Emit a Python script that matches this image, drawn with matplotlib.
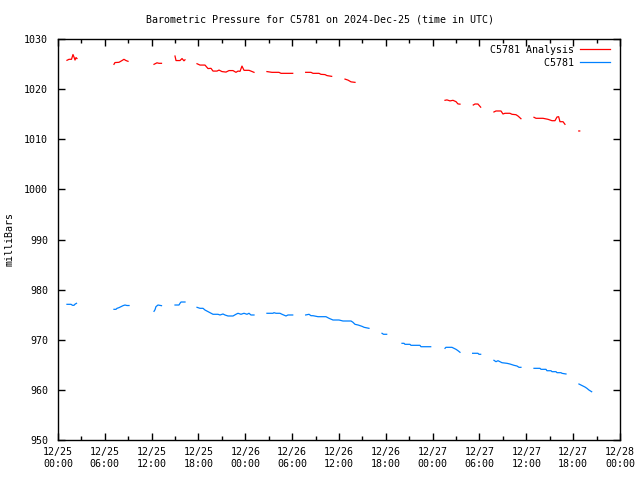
import numpy as np
import pandas as pd
import matplotlib
matplotlib.use("Agg")
import matplotlib.pyplot as plt
import matplotlib.dates as mdates

nan = np.nan

# hours since 2024-12-25 00:00 UTC, nan marks a gap in the record
analysis_hours = [1.15, 1.41, 1.73, 1.92, 2.05, 2.18, 2.31, 2.43, 4.0,
                  7.17, 7.30, 7.81, 8.20, 8.45, 8.71, 8.97, 10.0,
                  12.30, 12.68, 12.94, 13.26, 14.0,
                  14.99, 15.12, 15.63, 15.89, 16.14, 16.27, 17.0,
                  17.81, 18.19, 18.83, 19.08, 19.22, 19.60, 19.86, 20.37, 20.63, 21.01,
                  21.52, 21.91, 22.42, 22.80, 23.06, 23.32, 23.57, 23.83, 24.47, 24.72, 25.11, 26.0,
                  26.77, 27.41, 28.31, 28.57, 30.07, 31.0,
                  31.73, 32.41, 32.67, 33.44, 33.69, 34.20, 34.46, 35.06, 36.0,
                  36.77, 37.15, 37.54, 38.05, 45.0,
                  49.58, 49.83, 50.22, 50.60, 50.99, 51.24, 51.50, 52.0,
                  53.20, 53.42, 53.80, 54.15, 55.0,
                  55.85, 56.11, 56.75, 57.01, 57.26, 57.90, 58.16, 58.67, 58.93, 59.31, 60.0,
                  60.98, 61.24, 62.13, 62.77, 63.29, 63.67, 63.93, 64.14, 64.31, 64.70, 64.95, 66.0,
                  66.72, 66.84]
analysis_mb = [1025.75, 1025.95, 1025.95, 1026.9, 1026.4, 1025.8, 1026.3, 1026.1, nan,
               1024.95, 1025.3, 1025.35, 1025.7, 1025.95, 1025.7, 1025.55, nan,
               1024.95, 1025.25, 1025.15, 1025.15, nan,
               1026.6, 1025.7, 1025.7, 1026.1, 1025.65, 1025.85, nan,
               1025.07, 1024.8, 1024.8, 1024.35, 1024.1, 1024.15, 1023.6, 1023.6, 1023.8, 1023.5,
               1023.4, 1023.7, 1023.7, 1023.35, 1023.6, 1023.55, 1024.6, 1023.75, 1023.75, 1023.6, 1023.35, nan,
               1023.5, 1023.35, 1023.35, 1023.15, 1023.15, nan,
               1023.35, 1023.35, 1023.15, 1023.15, 1022.95, 1022.9, 1022.7, 1022.55, nan,
               1022.0, 1021.8, 1021.45, 1021.35, nan,
               1017.77, 1017.85, 1017.65, 1017.77, 1017.5, 1017.05, 1017.0, nan,
               1016.83, 1017.03, 1017.03, 1016.4, nan,
               1015.44, 1015.64, 1015.64, 1015.04, 1015.18, 1015.18, 1014.98, 1014.9, 1014.64, 1014.1, nan,
               1014.38, 1014.18, 1014.18, 1013.98, 1013.7, 1013.7, 1014.44, 1014.5, 1013.5, 1013.5, 1012.98, nan,
               1011.65, 1011.65]

station_hours = [1.15, 1.67, 1.86, 2.05, 2.18, 2.37, 4.0,
                 7.17, 7.43, 7.56, 7.81, 8.07, 8.33, 8.58, 8.84, 9.10, 10.0,
                 12.30, 12.43, 12.55, 12.81, 13.26, 14.0,
                 14.99, 15.50, 15.63, 15.76, 16.27, 17.0,
                 17.81, 18.19, 18.58, 18.83, 19.22, 19.60, 19.86, 20.50, 20.75, 21.14, 21.39,
                 21.78, 22.42, 22.80, 23.06, 23.44, 23.83, 24.21, 24.47, 24.72, 25.11, 26.0,
                 26.77, 27.54, 27.67, 27.93, 28.44, 28.70, 29.21, 29.46, 30.07, 31.0,
                 31.73, 32.16, 32.41, 32.67, 33.31, 34.33, 34.72, 35.23, 36.00, 36.51, 37.54,
                 37.79, 38.05, 38.45, 38.96, 39.22, 39.84, 40.5,
                 41.51, 41.70, 42.11, 43.0,
                 44.07, 44.33, 44.45, 45.09, 45.22, 46.37, 46.50, 47.75, 48.5,
                 49.58, 49.70, 50.47, 50.73, 50.99, 51.24, 51.50, 52.0,
                 53.12, 53.80, 53.93, 54.15, 55.0,
                 55.85, 56.11, 56.37, 56.62, 56.88, 57.52, 57.90, 58.42, 58.80, 59.06, 59.31, 60.0,
                 60.98, 61.75, 61.88, 62.52, 62.64, 63.16, 63.29, 63.80, 63.93, 64.44, 64.57, 65.08, 66.0,
                 66.74, 67.00, 67.26, 67.51, 67.77, 68.02, 68.37]
station_mb = [977.07, 977.07, 976.87, 976.87, 977.1, 977.27, nan,
              976.07, 976.07, 976.27, 976.4, 976.6, 976.8, 976.93, 976.83, 976.83, nan,
              975.67, 976.0, 976.6, 976.93, 976.8, nan,
              976.93, 976.93, 977.27, 977.53, 977.53, nan,
              976.47, 976.27, 976.27, 975.93, 975.6, 975.28, 975.08, 975.08, 974.94, 975.14, 974.94,
              974.74, 974.74, 975.08, 975.28, 975.08, 975.28, 975.08, 975.28, 974.94, 974.94, nan,
              975.28, 975.28, 975.4, 975.28, 975.28, 975.08, 974.74, 974.94, 974.94, nan,
              974.94, 975.08, 974.8, 974.8, 974.6, 974.6, 974.28, 973.94, 973.94, 973.74, 973.74,
              973.48, 973.08, 972.94, 972.67, 972.48, 972.28, nan,
              971.29, 971.09, 971.09, nan,
              969.29, 969.29, 969.09, 969.09, 968.89, 968.89, 968.61, 968.61, nan,
              968.29, 968.49, 968.49, 968.29, 968.09, 967.82, 967.5, nan,
              967.3, 967.3, 967.1, 967.1, nan,
              965.9, 965.62, 965.82, 965.62, 965.42, 965.3, 965.16, 964.9, 964.76, 964.5, 964.5, nan,
              964.3, 964.3, 964.1, 964.1, 963.82, 963.82, 963.63, 963.63, 963.43, 963.43, 963.3, 963.17, nan,
              961.17, 960.97, 960.77, 960.57, 960.3, 959.97, 959.63]

start = pd.Timestamp("2024-12-25 00:00")
analysis_time = start + pd.to_timedelta(analysis_hours, unit="h")
station_time = start + pd.to_timedelta(station_hours, unit="h")

plt.rcParams["font.family"] = ["DejaVu Sans Mono"]
plt.rcParams["font.size"] = 7.2

fig = plt.figure(figsize=(6.4, 4.8), dpi=100)
ax = fig.add_axes([58 / 640, 40 / 480, 562 / 640, 401 / 480])

ax.plot(analysis_time, analysis_mb, color="#ff0000", lw=0.9, label="C5781 Analysis")
ax.plot(station_time, station_mb, color="#0080ff", lw=0.9, label="         C5781")

ax.set_xlim(start, start + pd.Timedelta(hours=72))
ax.set_ylim(950, 1030)
ax.set_yticks(np.arange(950, 1031, 10))
ax.xaxis.set_major_locator(mdates.HourLocator(byhour=[0, 6, 12, 18]))
ax.xaxis.set_minor_locator(mdates.HourLocator(byhour=[3, 9, 15, 21]))
ax.xaxis.set_major_formatter(mdates.DateFormatter("%m/%d\n%H:%M"))
ax.tick_params(which="both", direction="in", top=True, right=True, width=1, pad=7)
ax.tick_params(which="major", length=5)
ax.tick_params(which="minor", length=3)
ax.tick_params(axis="x", pad=5)
for s in ax.spines.values():
    s.set_linewidth(1)

ax.set_ylabel("milliBars")
ax.yaxis.set_label_coords(-43 / 562, 0.5)
fig.suptitle("Barometric Pressure for C5781 on 2024-Dec-25 (time in UTC)", y=1 - 19 / 480, va="center", fontsize=7.2)

ax.legend(loc="upper right", bbox_to_anchor=(1 - 5 / 562, 1 - 1 / 401), frameon=False,
          markerfirst=False, borderpad=0, handlelength=3.0, handletextpad=0.6, labelspacing=0.3)

fig.savefig("out.png", dpi=100)
